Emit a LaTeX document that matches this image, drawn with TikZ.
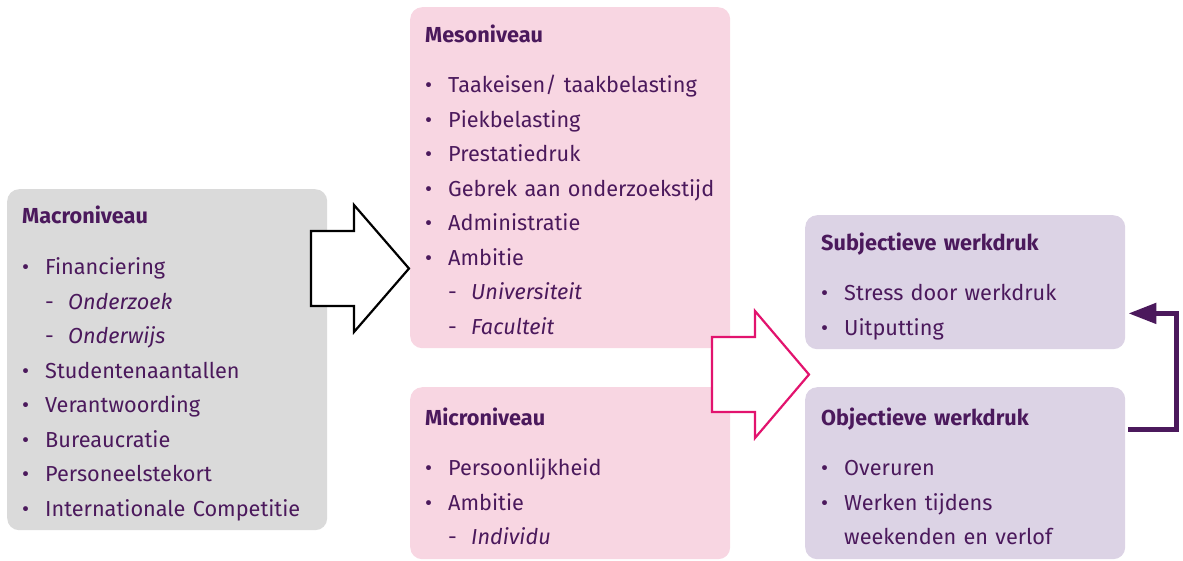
\documentclass[tikz,border=0pt]{standalone}
\usepackage{fontspec}
\setmainfont{Fira Sans}
\usepackage{xcolor}
\usepackage{tikz}
\usetikzlibrary{arrows.meta,positioning}

\definecolor{levelpurple}{HTML}{4B195C}
\definecolor{macrogray}{HTML}{DADADA}
\definecolor{mesopink}{HTML}{F8D6E2}
\definecolor{loadlilac}{HTML}{DCD3E5}
\definecolor{arrowmagenta}{HTML}{E2136E}

\setlength\parindent{0pt}
\newcommand\boxtitle[2][16pt]{\rule{0pt}{20pt}\textbf{#2}\par\vspace{#1}}
\newcommand\itm[1]{\makebox[23pt][l]{\textbullet}#1\par}
\newcommand\subitm[1]{\hspace*{23pt}\makebox[23pt][l]{-}\textit{#1}\par}

\begin{document}
\begin{tikzpicture}[
    x=1pt, y=-1pt,
    every node/.style={inner sep=0pt},
    levelbox/.style={rounded corners=12pt, minimum width=320pt, anchor=north west},
    macrobox/.style={levelbox, fill=macrogray},
    mesobox/.style={levelbox, fill=mesopink},
    loadbox/.style={levelbox, fill=loadlilac},
    boxtext/.style={anchor=north west, text width=330pt, text=levelpurple,
        font=\fontsize{21.7}{34.5}\selectfont},
    blockarrow/.style={fill=white, line width=2.2pt, line join=miter},
    feedback/.style={draw=levelpurple, line width=5pt, -{Triangle[length=28pt,width=20pt]}}
]
    \useasboundingbox (0,0) rectangle (1183,560);

    % boxes
    \node [macrobox, minimum height=341pt] (macro) at (7,189) {};
    \node [mesobox, minimum height=341pt] (meso) at (410,7) {};
    \node [mesobox, minimum height=172pt] (micro) at (410,387) {};
    \node [loadbox, minimum height=134pt] (subj) at (805,215) {};
    \node [loadbox, minimum height=172pt] (obj) at (805,387) {};

    % texts
    \node [boxtext] (macro-text) at (22,203) {%
        \boxtitle[17pt]{Macroniveau}
        \itm{Financiering}
        \subitm{Onderzoek}
        \subitm{Onderwijs}
        \itm{Studentenaantallen}
        \itm{Verantwoording}
        \itm{Bureaucratie}
        \itm{Personeelstekort}
        \itm{Internationale Competitie}};
    \node [boxtext] (meso-text) at (425,22) {%
        \boxtitle{Mesoniveau}
        \itm{Taakeisen/ taakbelasting}
        \itm{Piekbelasting}
        \itm{Prestatiedruk}
        \itm{Gebrek aan onderzoekstijd}
        \itm{Administratie}
        \itm{Ambitie}
        \subitm{Universiteit}
        \subitm{Faculteit}};
    \node [boxtext] (micro-text) at (425,405) {%
        \boxtitle{Microniveau}
        \itm{Persoonlijkheid}
        \itm{Ambitie}
        \subitm{Individu}};
    \node [boxtext] (subj-text) at (821,230) {%
        \boxtitle{Subjectieve werkdruk}
        \itm{Stress door werkdruk}
        \itm{Uitputting}};
    \node [boxtext] (obj-text) at (821,405) {%
        \boxtitle{Objectieve werkdruk}
        \itm{Overuren}
        \itm{Werken tijdens}
        \hspace*{23pt}weekenden en verlof\par};

    % block arrows
    \draw [blockarrow, draw=black] (311,231) -- (354,231) -- (354,205) -- (409,268.5)
        -- (354,332) -- (354,306) -- (311,306) -- cycle;
    \draw [blockarrow, draw=arrowmagenta] (712,337) -- (755,337) -- (755,311) -- (809,374.5)
        -- (755,438) -- (755,412) -- (712,412) -- cycle;

    % feedback
    \draw [feedback] ([xshift=3pt,yshift=-42pt]obj.north east)
        -| ([xshift=51pt,yshift=36pt]subj.south east)
        -- ([xshift=3pt,yshift=36pt]subj.south east);
\end{tikzpicture}
\end{document}
